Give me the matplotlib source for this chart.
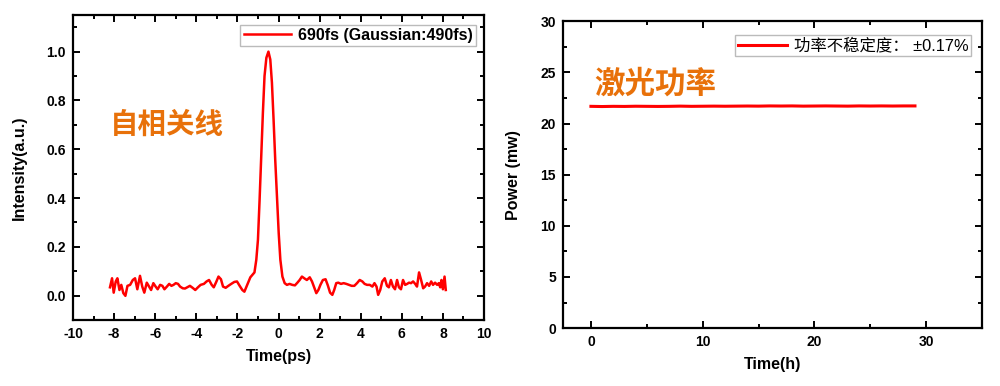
import matplotlib
matplotlib.use("Agg")
import matplotlib.pyplot as plt
from matplotlib.ticker import MultipleLocator

plt.rcParams['font.family'] = ['Liberation Sans', 'Noto Sans CJK SC', 'DejaVu Sans']

# autocorrelation trace
t_ps = [-8.20, -8.10, -8.02, -7.92, -7.84, -7.74, -7.65, -7.55, -7.45, -7.35,
        -7.22, -7.09, -6.98, -6.87, -6.74, -6.63, -6.53, -6.41, -6.30, -6.20,
        -6.09, -5.98, -5.88, -5.76, -5.65, -5.55, -5.43, -5.32, -5.21, -5.11,
        -5.00, -4.89, -4.79, -4.66, -4.55, -4.44, -4.31, -4.18, -4.05, -3.92,
        -3.79, -3.63, -3.50, -3.38, -3.25, -3.15, -3.02, -2.92, -2.80, -2.70,
        -2.57, -2.44, -2.30, -2.15, -2.02, -1.89, -1.76, -1.66, -1.57, -1.47,
        -1.37, -1.27, -1.17, -1.08, -1.00, -0.92, -0.84, -0.76, -0.68, -0.59,
        -0.49, -0.40, -0.32, -0.24, -0.16, -0.07, 0.01, 0.09, 0.19, 0.30,
        0.41, 0.54, 0.67, 0.80, 0.92, 1.03, 1.14, 1.27, 1.38, 1.52,
        1.63, 1.75, 1.84, 1.94, 2.04, 2.16, 2.29, 2.40, 2.51, 2.62,
        2.71, 2.81, 2.91, 3.04, 3.17, 3.30, 3.43, 3.56, 3.69, 3.82,
        3.95, 4.08, 4.19, 4.31, 4.44, 4.57, 4.67, 4.77, 4.85, 4.95,
        5.05, 5.17, 5.28, 5.37, 5.47, 5.57, 5.67, 5.77, 5.86, 5.96,
        6.06, 6.16, 6.26, 6.35, 6.45, 6.55, 6.65, 6.74, 6.84, 6.94,
        7.04, 7.13, 7.23, 7.33, 7.43, 7.52, 7.62, 7.72, 7.80, 7.87,
        7.93, 8.00, 8.08, 8.14]
intensity = [0.034, 0.071, 0.012, 0.058, 0.071, 0.023, 0.044, 0.010, -0.001, 0.040,
             0.044, 0.064, 0.071, 0.026, 0.081, 0.037, 0.012, 0.053, 0.037, 0.023,
             0.051, 0.037, 0.026, 0.044, 0.040, 0.026, 0.037, 0.048, 0.040, 0.044,
             0.051, 0.048, 0.037, 0.030, 0.029, 0.034, 0.040, 0.032, 0.023, 0.034,
             0.044, 0.048, 0.058, 0.064, 0.044, 0.034, 0.058, 0.078, 0.067, 0.037,
             0.032, 0.040, 0.048, 0.056, 0.058, 0.040, 0.023, 0.016, 0.034, 0.053,
             0.075, 0.085, 0.095, 0.147, 0.229, 0.393, 0.571, 0.749, 0.900, 0.975,
             1.000, 0.968, 0.873, 0.722, 0.558, 0.393, 0.256, 0.147, 0.078, 0.051,
             0.044, 0.048, 0.044, 0.042, 0.053, 0.064, 0.078, 0.070, 0.064, 0.075,
             0.058, 0.030, 0.010, 0.023, 0.044, 0.064, 0.067, 0.042, 0.012, 0.003,
             0.023, 0.051, 0.053, 0.048, 0.051, 0.048, 0.044, 0.040, 0.040, 0.051,
             0.064, 0.058, 0.048, 0.044, 0.044, 0.037, 0.051, 0.037, 0.003, 0.023,
             0.058, 0.071, 0.040, 0.034, 0.064, 0.037, 0.026, 0.064, 0.034, 0.026,
             0.064, 0.044, 0.048, 0.053, 0.051, 0.058, 0.048, 0.037, 0.095, 0.064,
             0.030, 0.037, 0.051, 0.040, 0.058, 0.044, 0.053, 0.044, 0.051, 0.034,
             0.064, 0.026, 0.078, 0.023]

# power stability, hourly readings
hours = [0, 1, 2, 3, 4, 5, 6, 7, 8, 9, 10, 11, 12, 13, 14, 15, 16, 17, 18, 19,
         20, 21, 22, 23, 24, 25, 26, 27, 28, 29]
power = [21.68, 21.66, 21.68, 21.67, 21.69, 21.68, 21.67, 21.68, 21.70, 21.68,
         21.69, 21.70, 21.69, 21.70, 21.71, 21.70, 21.72, 21.71, 21.72, 21.70,
         21.71, 21.72, 21.71, 21.70, 21.72, 21.71, 21.72, 21.71, 21.72, 21.72]

red = '#ff0000'
orange = '#e8710a'

fig = plt.figure(figsize=(10, 3.86), dpi=100)
ax1 = fig.add_axes([0.073, 0.171, 0.411, 0.790])
ax2 = fig.add_axes([0.563, 0.150, 0.419, 0.795])


def style(ax):
    for s in ax.spines.values():
        s.set_linewidth(1.6)
    ax.tick_params(which='both', direction='in', top=True, right=True, width=1.4)
    ax.tick_params(which='major', length=5, labelsize=10, pad=5)
    ax.tick_params(which='minor', length=3)
    for lab in ax.get_xticklabels() + ax.get_yticklabels():
        lab.set_fontweight('bold')


ax1.plot(t_ps, intensity, color=red, lw=1.8, label='690fs (Gaussian:490fs)')
ax1.set_xlim(-10, 10)
ax1.set_ylim(-0.1, 1.15)
ax1.xaxis.set_major_locator(MultipleLocator(2))
ax1.xaxis.set_minor_locator(MultipleLocator(1))
ax1.yaxis.set_major_locator(MultipleLocator(0.2))
ax1.yaxis.set_minor_locator(MultipleLocator(0.1))
ax1.set_xticks(range(-10, 11, 2))
ax1.set_xticklabels([str(v) for v in range(-10, 11, 2)])
ax1.set_yticks([0.0, 0.2, 0.4, 0.6, 0.8, 1.0])
ax1.set_yticklabels(['0.0', '0.2', '0.4', '0.6', '0.8', '1.0'])
ax1.set_xlabel('Time(ps)', fontsize=11.5, fontweight='bold', labelpad=6)
ax1.set_ylabel('Intensity(a.u.)', fontsize=11.5, fontweight='bold', labelpad=14)
style(ax1)
leg1 = ax1.legend(loc='upper right', bbox_to_anchor=(0.98, 0.968), fancybox=False,
                  prop={'weight': 'bold', 'size': 11.5}, handlelength=3.0,
                  borderpad=0.2, handletextpad=0.4, borderaxespad=0)
leg1.get_frame().set_edgecolor('#aaaaaa')
leg1.get_frame().set_linewidth(1.0)
ax1.text(-8.2, 0.70, '自相关线', color=orange, fontsize=20.5, fontweight='bold',
         family=['Noto Sans CJK SC'], va='center', ha='left')

ax2.plot(hours, power, color=red, lw=2.2, label='功率不稳定度： ±0.17%')
ax2.set_xlim(-2.5, 35)
ax2.set_ylim(0, 30)
ax2.xaxis.set_major_locator(MultipleLocator(10))
ax2.xaxis.set_minor_locator(MultipleLocator(5))
ax2.yaxis.set_major_locator(MultipleLocator(5))
ax2.yaxis.set_minor_locator(MultipleLocator(2.5))
ax2.set_xlabel('Time(h)', fontsize=11.5, fontweight='bold', labelpad=6)
ax2.set_ylabel('Power (mw)', fontsize=11.5, fontweight='bold', labelpad=14)
style(ax2)
leg2 = ax2.legend(loc='upper right', bbox_to_anchor=(0.973, 0.955), fancybox=False,
                  prop={'family': ['Liberation Sans', 'Noto Sans CJK SC'], 'size': 11.8},
                  handlelength=3.0, borderpad=0.15, handletextpad=0.4, borderaxespad=0)
leg2.get_frame().set_edgecolor('#aaaaaa')
leg2.get_frame().set_linewidth(1.0)
ax2.text(0.3, 23.9, '激光功率', color=orange, fontsize=22, fontweight='bold',
         family=['Noto Sans CJK SC'], va='center', ha='left')

fig.savefig('out.png', dpi=100)
